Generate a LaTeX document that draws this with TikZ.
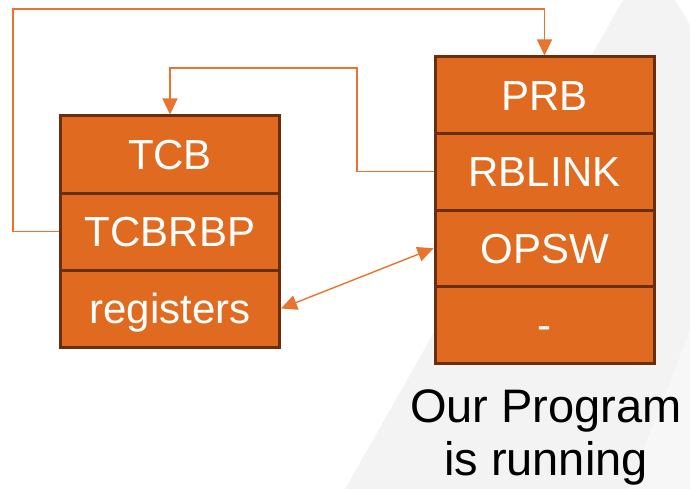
\documentclass[tikz,border=0pt]{standalone}
\usepackage{fontspec}
\setmainfont{Liberation Sans}
\usetikzlibrary{arrows.meta}
\definecolor{cellfill}{HTML}{E06B20}
\definecolor{celledge}{HTML}{6A2E0C}
\definecolor{linkcol}{HTML}{E8742F}
\definecolor{bandA}{HTML}{F3F3F3}
\definecolor{bandB}{HTML}{F7F7F7}
\tikzset{
  cell/.style={draw=celledge, fill=cellfill, line width=3pt, text=white,
    minimum width=219pt, inner sep=0pt, text height=30pt, text depth=0pt,
    font=\fontsize{42}{42}\selectfont},
  lcell/.style={cell, minimum height=77pt},
  rcell/.style={cell, minimum height=76.5pt},
  link/.style={draw=linkcol, line width=1.4pt},
  tip/.style={-{Triangle[length=16pt,width=15pt]}},
  tips/.style={{Triangle[length=16pt,width=15pt]}-{Triangle[length=16pt,width=15pt]}},
}
\begin{document}
\begin{tikzpicture}[x=1pt,y=-1pt]
\useasboundingbox (0,0) rectangle (690,489);
% slanted background band
\fill[bandA] (623,0) -- (675,0) -- (690,25) -- (690,489) -- (345,489) -- cycle;
\fill[bandB] (690,330) -- (690,489) -- (628,489) -- cycle;

% task control block
\node[lcell] (tcb) at (170,154.5) {TCB};
\node[lcell] (tcbrbp) at (170,231.5) {TCBRBP};
\node[lcell] (registers) at (170,308.5) {registers};

% program request block
\node[rcell] (prb) at (544.5,95.25) {PRB};
\node[rcell] (rblink) at (544.5,171.75) {RBLINK};
\node[rcell] (opsw) at (544.5,248.25) {OPSW};
\node[rcell] (spare) at (544.5,324.75) {-};

% caption (base anchor sits on the last line)
\node[anchor=base, align=center, font=\fontsize{47}{53}\selectfont, inner sep=0pt]
  (caption) at (546,475) {Our Program\\is running};

% links between the blocks
\coordinate (outer) at (13,9);
\coordinate (inner) at (357,68);
\draw[link, tip] (tcbrbp.west) -| (outer) -| (prb.north);
\draw[link, tip] (rblink.west) -| (inner) -| (tcb.north);
\draw[link, tips] (registers.east) -- (opsw.west);
\end{tikzpicture}
\end{document}
